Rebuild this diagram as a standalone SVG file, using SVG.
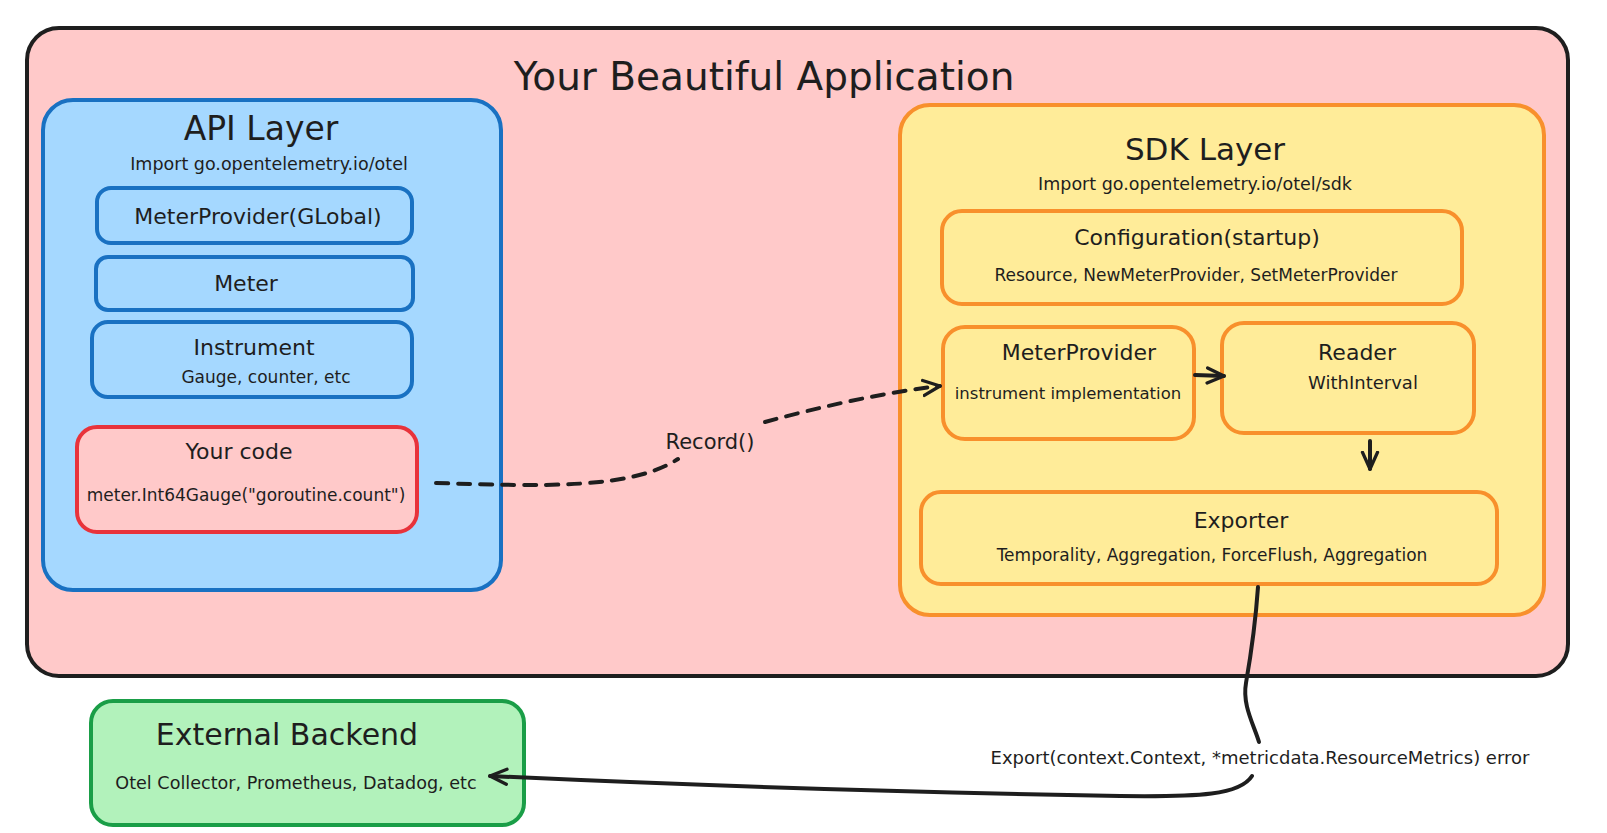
<svg xmlns="http://www.w3.org/2000/svg" width="1607" height="833" viewBox="0 0 1607 833">
<style>
text{font-family:"DejaVu Sans","Liberation Sans",sans-serif;fill:#1e1e1e;text-anchor:middle}
.title{font-size:39px}
.layer{font-size:31px}
.imp{font-size:17.5px}
.h{font-size:22px}
.sub{font-size:17px}
.blue{fill:#a5d8ff;stroke:#1971c2;stroke-width:4}
.yel{fill:#ffec99;stroke:#f8902c;stroke-width:4}
.conn{fill:none;stroke:#1e1e1e;stroke-width:4;stroke-linecap:round}
</style>
<defs>
<marker id="ah" viewBox="0 0 12 12" refX="11" refY="6" markerWidth="5" markerHeight="5" orient="auto" markerUnits="strokeWidth">
<path d="M1,1.5 L11,6 L1,10.5" fill="none" stroke="#1e1e1e" stroke-width="2" stroke-linecap="round" stroke-linejoin="round"/>
</marker>
</defs>
<rect width="1607" height="833" fill="#ffffff"/>
<g id="app">
<rect x="27" y="28" width="1541" height="648" rx="32" fill="#ffc9c9" stroke="#1e1e1e" stroke-width="4"/>
<text class="title" x="764" y="90">Your Beautiful Application</text>
</g>
<g id="api-layer">
<rect class="blue" x="43" y="100" width="458" height="490" rx="30"/>
<text class="layer" style="font-size:33px" x="261" y="140">API Layer</text>
<text class="imp" x="269" y="170">Import go.opentelemetry.io/otel</text>
</g>
<g id="meterprovider-global">
<rect class="blue" x="97" y="188" width="315" height="55" rx="14"/>
<text class="h" x="258" y="224">MeterProvider(GLobal)</text>
</g>
<g id="meter">
<rect class="blue" x="96" y="257" width="317" height="53" rx="12"/>
<text class="h" x="246" y="291">Meter</text>
</g>
<g id="instrument">
<rect class="blue" x="92" y="322" width="320" height="75" rx="16"/>
<text class="h" x="254" y="355">Instrument</text>
<text class="sub" x="266" y="383">Gauge, counter, etc</text>
</g>
<g id="your-code">
<rect x="77" y="427" width="340" height="105" rx="20" fill="#ffc9c9" stroke="#e8333b" stroke-width="4"/>
<text class="h" x="239" y="459">Your code</text>
<text class="sub" x="246" y="501">meter.Int64Gauge("goroutine.count")</text>
</g>
<g id="sdk-layer">
<rect class="yel" x="900" y="105" width="644" height="510" rx="30"/>
<text class="layer" x="1205" y="160">SDK Layer</text>
<text class="imp" x="1195" y="190">Import go.opentelemetry.io/otel/sdk</text>
</g>
<g id="configuration">
<rect class="yel" x="942" y="211" width="520" height="93" rx="20"/>
<text class="h" x="1197" y="245">Configuration(startup)</text>
<text class="sub" x="1196" y="281">Resource, NewMeterProvider, SetMeterProvider</text>
</g>
<g id="meterprovider">
<rect class="yel" x="943" y="327" width="251" height="112" rx="22"/>
<text class="h" x="1079" y="360">MeterProvider</text>
<text class="sub" style="font-size:16.5px" x="1068" y="399">instrument implementation</text>
</g>
<g id="reader">
<rect class="yel" x="1222" y="323" width="252" height="110" rx="22"/>
<text class="h" x="1357" y="360">Reader</text>
<text class="sub" style="font-size:18px" x="1363" y="389">WithInterval</text>
</g>
<g id="exporter">
<rect class="yel" x="921" y="492" width="576" height="92" rx="20"/>
<text class="h" x="1241" y="528">Exporter</text>
<text class="sub" x="1212" y="561">Temporality, Aggregation, ForceFlush, Aggregation</text>
</g>
<g id="external-backend">
<rect x="91" y="701" width="433" height="124" rx="22" fill="#b2f2bb" stroke="#1a9e47" stroke-width="4"/>
<text x="287" y="745" style="font-size:30px">External Backend</text>
<text class="sub" style="font-size:17.6px" x="296" y="789">Otel Collector, Prometheus, Datadog, etc</text>
</g>
<g id="connectors">
<path class="conn" d="M436,483 C 540,486 630,490 678,459" stroke-dasharray="12 10"/>
<path class="conn" d="M765,422 C 820,407 880,393 940,386" stroke-dasharray="12 10" marker-end="url(#ah)"/>
<text style="font-size:21px" x="710" y="449">Record()</text>
<path class="conn" d="M1195,375 L1224,376" marker-end="url(#ah)"/>
<path class="conn" d="M1370,441 L1370,469" marker-end="url(#ah)"/>
<path class="conn" d="M1258,587 C 1255,630 1250,660 1246,683 C 1242,705 1254,725 1259,742"/>
<path class="conn" d="M1252,776 C 1240,795 1200,797 1120,796 C 900,792 700,786 490,776" marker-end="url(#ah)"/>
<text style="font-size:18px" x="1260" y="764">Export(context.Context, *metricdata.ResourceMetrics) error</text>
</g>
</svg>
